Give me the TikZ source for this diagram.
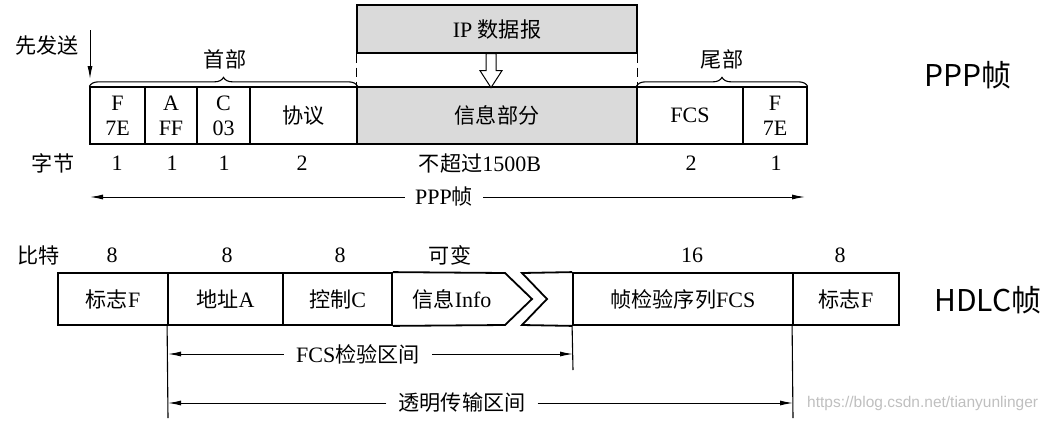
\documentclass[tikz,border=0pt]{standalone}
\usepackage{fontspec}
\setmainfont{Liberation Serif}
\newfontfamily\cjk{Noto Sans CJK SC}[Scale=0.96]
\newfontfamily\cjksans{Noto Sans CJK SC}
\newfontfamily\wmfont{Liberation Sans}
\usetikzlibrary{arrows.meta,decorations.pathreplacing,calc}
\newcommand\zh[1]{{\cjk #1}}
\definecolor{infogray}{RGB}{218,218,218}
\tikzset{
  txt/.style={font=\fontsize{22}{25}\selectfont, inner sep=0pt, align=center},
  pcell/.style={txt, draw, line width=1.3pt, minimum height=57pt},
  hcell/.style={txt, draw, line width=1.8pt, minimum height=52pt},
  arr/.style={-{Latex[length=13pt,width=5pt]}, line width=1pt},
  thin/.style={line width=1.1pt},
  brc/.style={decorate, decoration={brace, amplitude=9pt}, line width=1.1pt},
  dsh/.style={line width=1pt, dash pattern=on 9pt off 5pt},
  big/.style={font=\cjksans\fontsize{30}{32}\selectfont, inner sep=0pt},
}
\begin{document}
\begin{tikzpicture}[x=1pt,y=-1pt]
\useasboundingbox (0,0) rectangle (1053,421);
% ---------- PPP frame ----------
\node[pcell, minimum width=55pt]  (pF)   at (117.5,115.5) {F\\7E};
\node[pcell, minimum width=52pt]  (pA)   at (171,115.5)   {A\\FF};
\node[pcell, minimum width=53pt]  (pC)   at (223.5,115.5) {C\\03};
\node[pcell, minimum width=107pt] (pP)   at (303.5,115.5) {\zh{协议}};
\node[pcell, minimum width=280pt, fill=infogray] (pI) at (497,115.5) {\zh{信息部分}};
\node[pcell, minimum width=106pt] (pFCS) at (690,115.5)   {FCS};
\node[pcell, minimum width=64pt]  (pF2)  at (775,115.5)   {F\\7E};
% IP datagram
\node[pcell, minimum width=280pt, minimum height=48pt, fill=infogray] (ip) at (497,29) {IP \zh{数据报}};
\draw[dsh] (ip.south west) -- (pI.north west);
\draw[dsh] (ip.south east) -- (pI.north east);
% hollow arrow
\coordinate (hs) at ($(ip.south)+(-6,0)$);
\draw[line width=1pt, fill=white]
  ($(hs)+(-5,0)$) -- ($(hs)+(5,0)$) -- ($(hs)+(5,17)$) -- ($(hs)+(11,17)$)
  -- ($(hs)+(0,34)$) -- ($(hs)+(-11,17)$) -- ($(hs)+(-5,17)$) -- cycle;
% braces
\draw[brc] (pF.north west) -- (pP.north east);
\draw[brc] (pFCS.north west) -- (pF2.north east);
\node[txt] (hd) at (225,59) {\zh{首部}};
\node[txt] (tl) at (722,59) {\zh{尾部}};
% first send
\node[txt] (first) at (47,45) {\zh{先发送}};
\coordinate (fs) at (90,30);
\coordinate (fe) at (90,79);
\draw[arr] (fs) -- (fe);
% byte row
\node[txt] (bytes) at (53,163) {\zh{字节}};
\node[txt] (b1) at (117,163) {1};
\node[txt] (b2) at (172,163) {1};
\node[txt] (b3) at (224,163) {1};
\node[txt] (b4) at (302,163) {2};
\node[txt] (b5) at (480,163) {\zh{不超过}1500B};
\node[txt] (b6) at (691,163) {2};
\node[txt] (b7) at (776,163) {1};
% PPP frame span
\node[txt, inner xsep=10pt] (pppl) at (444,197) {PPP\zh{帧}};
\coordinate (pl) at (90,197);
\coordinate (pr) at (805,197);
\draw[arr] (pppl.west) -- (pl);
\draw[arr] (pppl.east) -- (pr);
\node[big] (pppt) at (968,75) {PPP帧};
% ---------- HDLC frame ----------
\node[hcell, minimum width=110pt] (hF)  at (113,299)   {\zh{标志}F};
\node[hcell, minimum width=115pt] (hA)  at (225.5,299) {\zh{地址}A};
\node[hcell, minimum width=109pt] (hC)  at (337.5,299) {\zh{控制}C};
\node[txt] (hI) at (452,299) {\zh{信息}Info};
\node[hcell, minimum width=220pt] (hFCS) at (683,299)  {\zh{帧检验序列}FCS};
\node[hcell, minimum width=106pt] (hF2) at (846,299)   {\zh{标志}F};
\draw[line width=1.8pt, line join=miter]
  (hC.north east) -- (505,273) -- (532,299) -- (505,325) -- (hC.south east);
\draw[line width=1.8pt, line join=miter]
  (hFCS.north west) -- (522,273) -- (547,299) -- (522,325) -- (hFCS.south west);
% bit row
\node[txt] (bits) at (39,255) {\zh{比特}};
\node[txt] (t1) at (112,255) {8};
\node[txt] (t2) at (227,255) {8};
\node[txt] (t3) at (340,255) {8};
\node[txt] (t4) at (450,255) {\zh{可变}};
\node[txt] (t5) at (692,255) {16};
\node[txt] (t6) at (840,255) {8};
\node[big] (hdlct) at (988,300) {HDLC帧};
% vertical marks
\coordinate (v1) at (168,418);
\coordinate (v2) at (573,370);
\coordinate (v3) at (793,418);
\draw[thin] (hA.south west) -- (v1);
\draw[thin] (hFCS.south west) -- (v2);
\draw[thin] (hF2.south west) -- (v3);
% FCS span
\node[txt, inner xsep=12pt] (fcsl) at (358,354) {FCS\zh{检验区间}};
\coordinate (f1) at (168,354);
\coordinate (f2) at (573,354);
\draw[arr] (fcsl.west) -- (f1);
\draw[arr] (fcsl.east) -- (f2);
% transparent span
\node[txt, inner xsep=12pt] (trl) at (462,403) {\zh{透明传输区间}};
\coordinate (r1) at (168,403);
\coordinate (r2) at (793,403);
\draw[arr] (trl.west) -- (r1);
\draw[arr] (trl.east) -- (r2);
% watermark
\node[font=\wmfont\fontsize{15.5}{17}\selectfont, text=black!25, inner sep=0pt, anchor=west] (wm) at (807,403) {https://blog.csdn.net/tianyunlinger};
\end{tikzpicture}
\end{document}
